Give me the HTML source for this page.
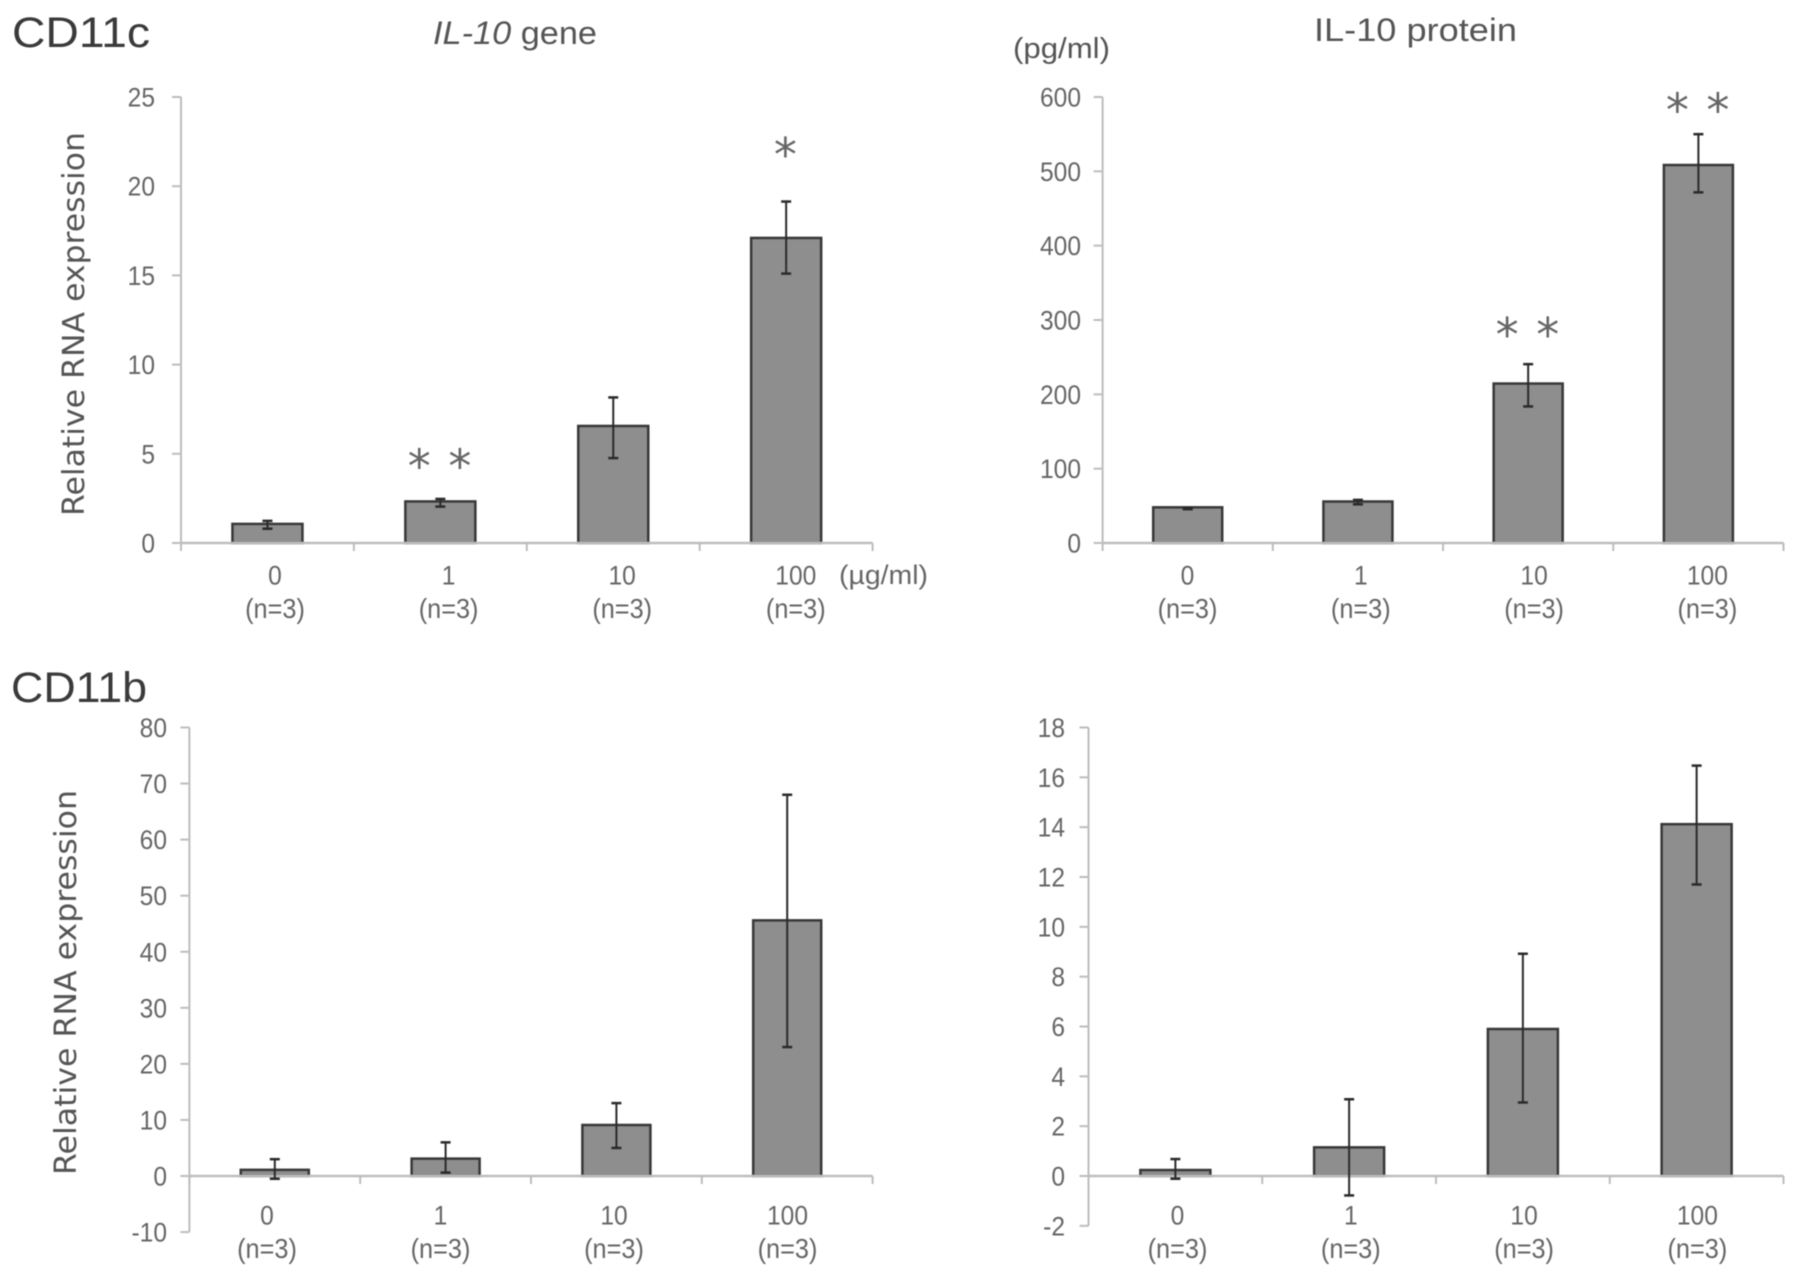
<!DOCTYPE html>
<html lang="en">
<head>
<meta charset="utf-8">
<title>IL-10 gene and protein expression in CD11c and CD11b cells</title>
<style>
  html, body { margin: 0; padding: 0; background: #fff; }
  #figure { display: block; width: 1795px; height: 1276px; filter: blur(0.6px); }
  text { font-family: "Liberation Sans", "DejaVu Sans", sans-serif; }
</style>
</head>
<body>
<svg id="figure" xmlns="http://www.w3.org/2000/svg" width="1795" height="1276" viewBox="0 0 1795 1276">
  <rect x="0" y="0" width="1795" height="1276" fill="#fff"/>
  <text x="12" y="47" font-size="43" fill="#3a3a3a" textLength="138" lengthAdjust="spacingAndGlyphs">CD11c</text>
  <text x="11" y="702" font-size="43" fill="#3a3a3a" textLength="136" lengthAdjust="spacingAndGlyphs">CD11b</text>
  <text x="433" y="44" font-size="32" fill="#555" textLength="164" lengthAdjust="spacingAndGlyphs"><tspan font-style="italic">IL-10</tspan> gene</text>
  <text x="1314" y="41" font-size="32" fill="#555" textLength="203" lengthAdjust="spacingAndGlyphs">IL-10 protein</text>
  <text x="1013" y="58" font-size="29" fill="#555" textLength="97" lengthAdjust="spacingAndGlyphs">(pg/ml)</text>
  <text x="839" y="584" font-size="27" fill="#666" textLength="89" lengthAdjust="spacingAndGlyphs">(µg/ml)</text>
  <text transform="translate(84,516) rotate(-90)" font-size="30" fill="#555" style="font-family:'DejaVu Sans',sans-serif" textLength="384" lengthAdjust="spacingAndGlyphs">Relative RNA expression</text>
  <text transform="translate(76,1175) rotate(-90)" font-size="30" fill="#555" style="font-family:'DejaVu Sans',sans-serif" textLength="385" lengthAdjust="spacingAndGlyphs">Relative RNA expression</text>
  <g id="charts"></g>
</svg>
<script>
// Shared category labels
const categories = ['0', '1', '10', '100'];
const sampleSizes = ['(n=3)', '(n=3)', '(n=3)', '(n=3)'];

// CD11c, IL-10 gene
const cd11cGeneTicks = [0, 5, 10, 15, 20, 25];
const cd11cGeneValues = [1.07, 2.33, 6.56, 17.1];
const cd11cGeneErrHigh = [1.24, 2.47, 8.16, 19.14];
const cd11cGeneErrLow = [0.8, 2.04, 4.76, 15.1];
const cd11cGeneStars = ['', '* *', '', '*'];
const cd11cGeneStarLevels = [0, 3.39, 0, 20.85];

// CD11c, IL-10 protein
const cd11cProteinTicks = [0, 100, 200, 300, 400, 500, 600];
const cd11cProteinValues = [48, 55.8, 214.5, 508.5];
const cd11cProteinErrHigh = [47, 58, 240.6, 550];
const cd11cProteinErrLow = [45.5, 52, 183.7, 471.7];
const cd11cProteinStars = ['', '', '* *', '* *'];
const cd11cProteinStarLevels = [0, 0, 258.6, 560.6];

// CD11b, IL-10 gene
const cd11bGeneTicks = [-10, 0, 10, 20, 30, 40, 50, 60, 70, 80];
const cd11bGeneValues = [1.1, 3.1, 9.1, 45.6];
const cd11bGeneErrHigh = [3, 6, 13, 68];
const cd11bGeneErrLow = [-0.5, 0.6, 5, 23];
const cd11bGeneStars = ['', '', '', ''];
const cd11bGeneStarLevels = [0, 0, 0, 0];

// CD11b, IL-10 protein
const cd11bProteinTicks = [-2, 0, 2, 4, 6, 8, 10, 12, 14, 16, 18];
const cd11bProteinValues = [0.24, 1.15, 5.9, 14.12];
const cd11bProteinErrHigh = [0.68, 3.08, 8.92, 16.47];
const cd11bProteinErrLow = [-0.11, -0.78, 2.95, 11.7];
const cd11bProteinStars = ['', '', '', ''];
const cd11bProteinStarLevels = [0, 0, 0, 0];

const SVG_NS = 'http://www.w3.org/2000/svg';
const root = document.getElementById('charts');

function make(tag, attrs, parent, content) {
  const el = document.createElementNS(SVG_NS, tag);
  for (const key in attrs) el.setAttribute(key, attrs[key]);
  if (content !== undefined) el.textContent = content;
  parent.appendChild(el);
  return el;
}

// Squeeze a text element horizontally to imitate the narrower original typeface.
function narrow(el, factor) {
  const w = el.getComputedTextLength();
  el.setAttribute('textLength', (w * factor).toFixed(2));
  el.setAttribute('lengthAdjust', 'spacingAndGlyphs');
}

function drawChart(c) {
  const g = make('g', {}, root);
  
  

  const yMin = c.ticks[0];
  const yMax = c.ticks[c.ticks.length - 1];
  const yScale = v => c.zeroY + (c.topY - c.zeroY) * (v / yMax);
  const band = (c.right - c.left) / c.categories.length;
  const xScale = i => c.left + band * (i + 0.5);

  // y axis
  const yAxis = make('line', { x1: c.left, x2: c.left, y1: yScale(yMax), y2: yScale(yMin), stroke: '#bdbdbd', 'stroke-width': 2 }, g);
  
  

  c.ticks.forEach(t => {
    const mark = make('line', { x1: c.left - 9, x2: c.left, y1: yScale(t), y2: yScale(t), stroke: '#bdbdbd', 'stroke-width': 2 }, g);
    
    
    const label = make('text', { x: c.labelRight, y: yScale(t) + 9.5, 'text-anchor': 'end', 'font-size': 27, fill: '#666' }, g, String(t));
    
    
    narrow(label, 0.91);
  });

  // bars
  c.values.forEach((v, i) => {
    const bar = make('rect', { x: xScale(i) - c.barWidth / 2, y: yScale(v), width: c.barWidth, height: yScale(0) - yScale(v), fill: '#8e8e8e', stroke: '#383838', 'stroke-width': 2.5 }, g);
    
    
  });

  // x axis drawn over the bar bases
  const xAxis = make('line', { x1: c.left, x2: c.right, y1: yScale(0), y2: yScale(0), stroke: '#bdbdbd', 'stroke-width': 2.5 }, g);
  
  

  for (let i = 0; i <= c.categories.length; i++) {
    const tx = c.left + band * i;
    const mark = make('line', { x1: tx, x2: tx, y1: yScale(0), y2: yScale(0) + 8, stroke: '#bdbdbd', 'stroke-width': 2 }, g);
    
    
  }

  // error bars
  c.values.forEach((v, i) => {
    const cx = xScale(i);
    const hi = yScale(c.errHigh[i]);
    const lo = yScale(c.errLow[i]);
    const stem = make('line', { x1: cx, x2: cx, y1: hi, y2: lo, stroke: '#2a2a2a', 'stroke-width': 2 }, g);
    
    
    const capHigh = make('line', { x1: cx - 5, x2: cx + 5, y1: hi, y2: hi, stroke: '#2a2a2a', 'stroke-width': 2.5 }, g);
    
    
    const capLow = make('line', { x1: cx - 5, x2: cx + 5, y1: lo, y2: lo, stroke: '#2a2a2a', 'stroke-width': 2.5 }, g);
    
    

    if (c.stars[i]) {
      const stars = make('text', { x: cx, y: yScale(c.starLevels[i]), 'text-anchor': 'middle', 'font-size': 46, 'letter-spacing': 1.5, fill: '#666', style: 'font-family:"DejaVu Sans",sans-serif' }, g, c.stars[i].replace(' ', '\u00a0'));
      
      
    }
  });

  // category labels
  c.categories.forEach((cat, i) => {
    const lx = c.catLeft + c.catStep * i;
    const label = make('text', { x: lx, y: c.catY, 'text-anchor': 'middle', 'font-size': 27, fill: '#666' }, g, cat);
    
    
    narrow(label, 0.91);
    const n = make('text', { x: lx, y: c.catY + 33.5, 'text-anchor': 'middle', 'font-size': 27.5, fill: '#666' }, g, c.samples[i]);
    
    
    narrow(n, 0.92);
  });
}

drawChart({
  name: 'cd11c-gene-chart', categories: categories, samples: sampleSizes, ticks: cd11cGeneTicks,
  values: cd11cGeneValues, errHigh: cd11cGeneErrHigh, errLow: cd11cGeneErrLow,
  stars: cd11cGeneStars, starLevels: cd11cGeneStarLevels,
  left: 181, right: 872.6, topY: 97, zeroY: 543, labelRight: 155, barWidth: 70,
  catLeft: 275, catStep: 173.6, catY: 584.3
});
drawChart({
  name: 'cd11c-protein-chart', categories: categories, samples: sampleSizes, ticks: cd11cProteinTicks,
  values: cd11cProteinValues, errHigh: cd11cProteinErrHigh, errLow: cd11cProteinErrLow,
  stars: cd11cProteinStars, starLevels: cd11cProteinStarLevels,
  left: 1102.6, right: 1783.5, topY: 97, zeroY: 543, labelRight: 1081, barWidth: 69,
  catLeft: 1187.5, catStep: 173.3, catY: 584.3
});
drawChart({
  name: 'cd11b-gene-chart', categories: categories, samples: sampleSizes, ticks: cd11bGeneTicks,
  values: cd11bGeneValues, errHigh: cd11bGeneErrHigh, errLow: cd11bGeneErrLow,
  stars: cd11bGeneStars, starLevels: cd11bGeneStarLevels,
  left: 189.4, right: 872.6, topY: 727.5, zeroY: 1176, labelRight: 167, barWidth: 68,
  catLeft: 267, catStep: 173.5, catY: 1224.5
});
drawChart({
  name: 'cd11b-protein-chart', categories: categories, samples: sampleSizes, ticks: cd11bProteinTicks,
  values: cd11bProteinValues, errHigh: cd11bProteinErrHigh, errLow: cd11bProteinErrLow,
  stars: cd11bProteinStars, starLevels: cd11bProteinStarLevels,
  left: 1088.5, right: 1783.5, topY: 727.5, zeroY: 1176, labelRight: 1065, barWidth: 70,
  catLeft: 1177.5, catStep: 173.3, catY: 1224.5
});
</script>
</body>
</html>
